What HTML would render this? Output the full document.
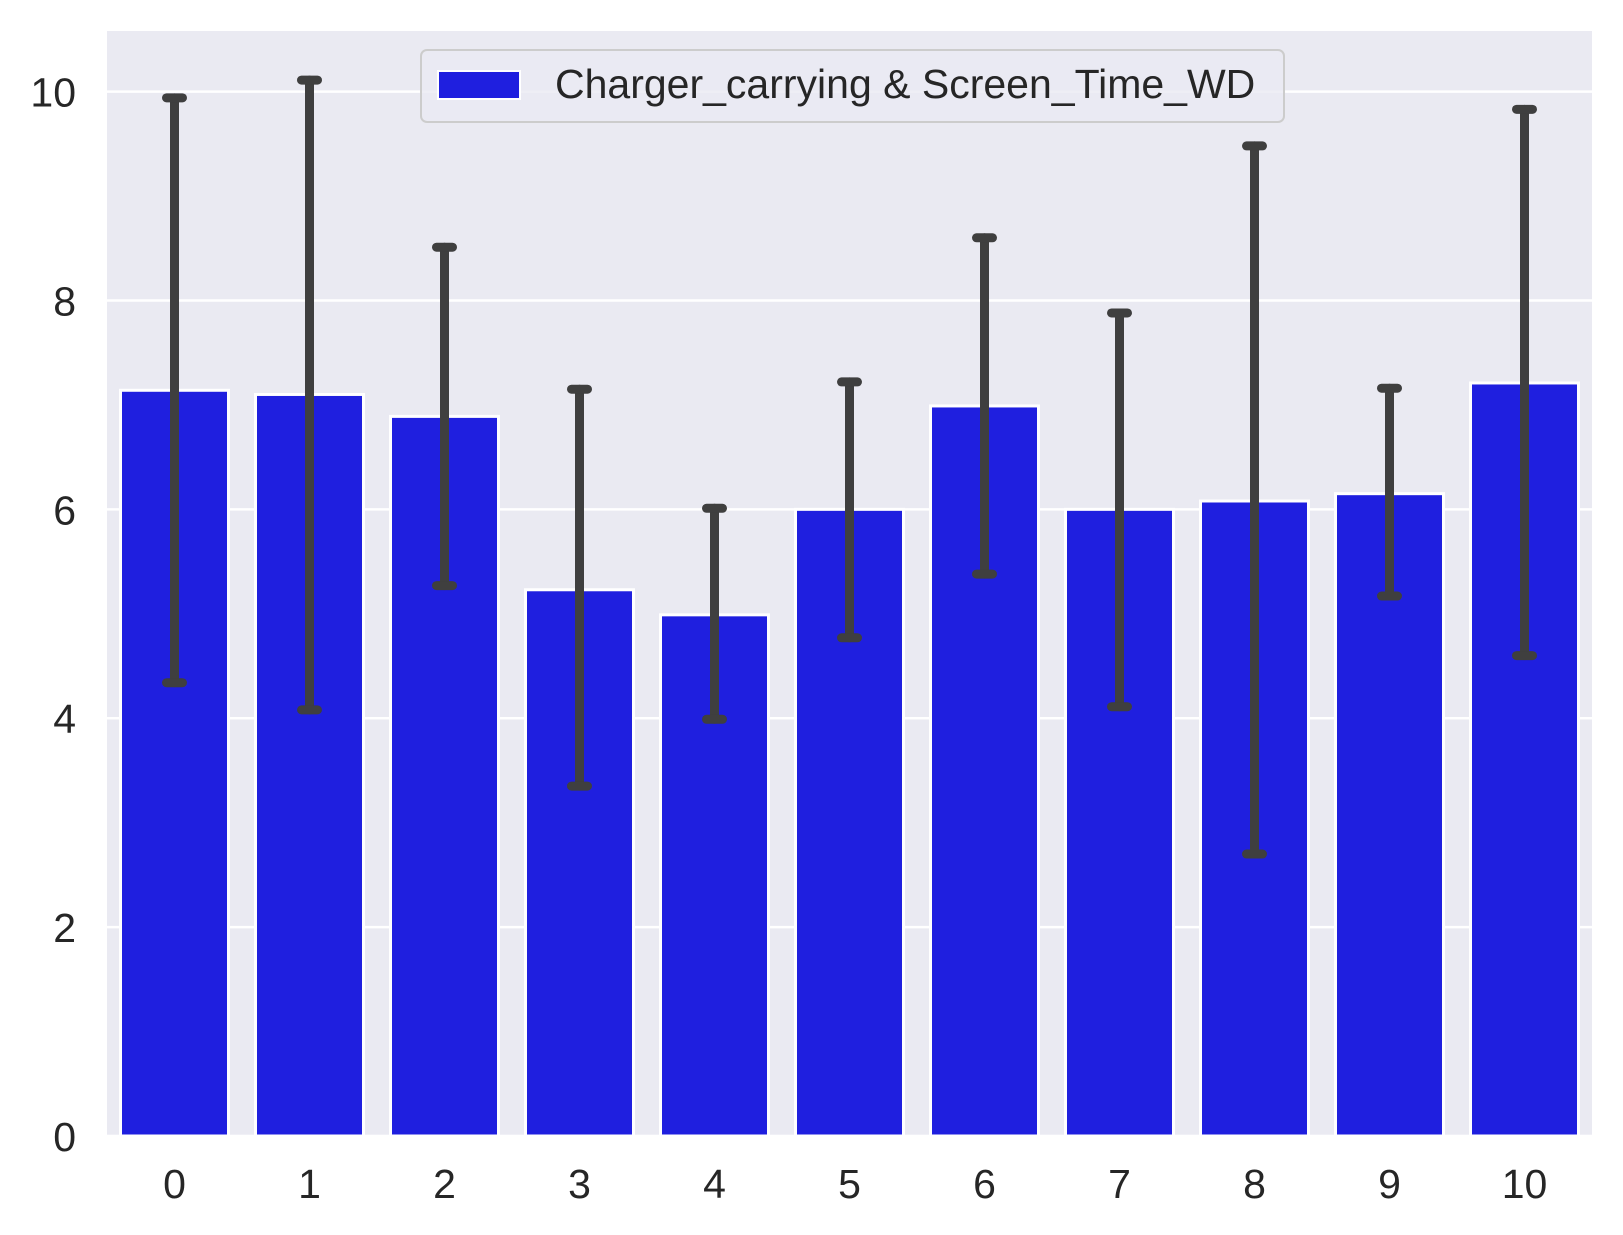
<!DOCTYPE html>
<html><head><meta charset="utf-8"><style>
html,body{margin:0;padding:0;background:#fff;}
svg{display:block;font-family:"Liberation Sans","DejaVu Sans",sans-serif;}
</style></head><body>
<svg id="chart" width="1623" height="1235" viewBox="0 0 1623 1235" xmlns="http://www.w3.org/2000/svg">
<rect x="107" y="31" width="1485" height="1105" fill="#eaeaf2"/>
<g id="grid"></g><g id="bars"></g><g id="errs"></g><g id="ticks"></g>
<g>
<rect x="421" y="50" width="863" height="72" rx="6" fill="#eaeaf2" fill-opacity="0.8" stroke="#cccccc" stroke-width="2"/>
<rect x="438" y="71" width="82" height="28" fill="#1f1fdf" stroke="#fff" stroke-width="2"/>
<text x="555" y="98" font-size="41" fill="#262626">Charger_carrying &amp; Screen_Time_WD</text>
</g>
</svg>
<script>
const categories=["0","1","2","3","4","5","6","7","8","9","10"];
const values=[7.14,7.10,6.89,5.23,4.99,6.0,6.99,6.0,6.08,6.15,7.21];
const errHigh=[9.94,10.11,8.51,7.15,6.01,7.22,8.60,7.88,9.48,7.16,9.83];
const errLow=[4.34,4.08,5.27,3.35,3.99,4.77,5.38,4.11,2.70,5.17,4.60];
const yTicks=[0,2,4,6,8,10];
const SVGNS="http://www.w3.org/2000/svg";
const plotL=107,plotR=1592,plotT=31,plotB=1136,yMax=10.58;
const yPos=v=>plotB-(v/yMax)*(plotB-plotT);
const step=(plotR-plotL)/categories.length;
const xc=i=>plotL+step*(i+0.5);
function mk(tag,attrs,parent){const e=document.createElementNS(SVGNS,tag);for(const k in attrs)e.setAttribute(k,attrs[k]);document.getElementById(parent).appendChild(e);return e;}
yTicks.forEach(t=>{
  const l=mk("line",{x1:plotL,x2:plotR,y1:yPos(t),y2:yPos(t),stroke:"#fff","stroke-width":2.5},"grid");
  
  
  const tx=mk("text",{x:76,y:yPos(t)+15,"font-size":41,fill:"#262626","text-anchor":"end"},"ticks");
  tx.textContent=t;
  
  
});
const bw=step*0.8;
categories.forEach((c,i)=>{
  const r=mk("rect",{x:xc(i)-bw/2,y:yPos(values[i]),width:bw,height:plotB-yPos(values[i]),fill:"#1f1fdf",stroke:"#fff","stroke-width":3},"bars");
  
  
  const g=mk("g",{stroke:"#3f3f3f","stroke-width":9,"stroke-linecap":"round"},"errs");
  
  
  const a=document.createElementNS(SVGNS,"line");
  a.setAttribute("x1",xc(i));a.setAttribute("x2",xc(i));a.setAttribute("y1",yPos(errHigh[i]));a.setAttribute("y2",yPos(errLow[i]));
  g.appendChild(a);
  [errHigh[i],errLow[i]].forEach(v=>{const cap=document.createElementNS(SVGNS,"line");
    cap.setAttribute("x1",xc(i)-8);cap.setAttribute("x2",xc(i)+8);cap.setAttribute("y1",yPos(v));cap.setAttribute("y2",yPos(v));g.appendChild(cap);});
  const tx=mk("text",{x:xc(i),y:1198,"font-size":41,fill:"#262626","text-anchor":"middle"},"ticks");
  tx.textContent=c;
  
  
});
</script>
</body></html>
